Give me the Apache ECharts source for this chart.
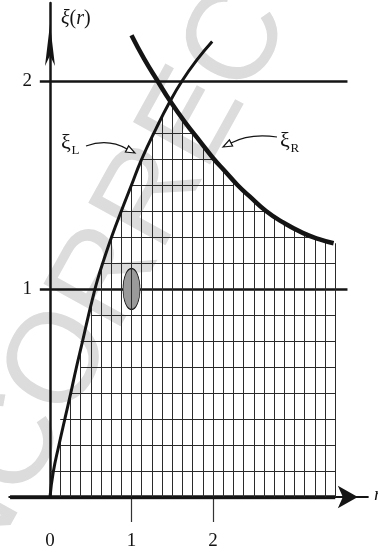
<!DOCTYPE html>
<html>
<head>
<meta charset="utf-8">
<script src="https://cdn.jsdelivr.net/npm/echarts@6/dist/echarts.min.js"></script>
<style>
  html, body { margin: 0; padding: 0; background: #fff; }
  #chart { width: 378px; height: 554px; }
</style>
</head>
<body>
<div id="chart"></div>
<script>
// Rising branch ξ_L(r)
const xiLeft = [
  [0, 0], [0.04, 0.12], [0.11, 0.25], [0.185, 0.38], [0.255, 0.5], [0.325, 0.625],
  [0.4, 0.75], [0.47, 0.87], [0.52, 0.95], [0.58, 1.04], [0.66, 1.14], [0.76, 1.255],
  [0.88, 1.38], [1.0, 1.5], [1.12, 1.62], [1.3, 1.77], [1.47, 1.9], [1.62, 2.0],
  [1.8, 2.1], [1.99, 2.19]
];
// Falling branch ξ_R(r)
const xiRight = [
  [1.0, 2.22], [1.15, 2.11], [1.32, 2.0], [1.48, 1.9], [1.66, 1.8], [1.84, 1.71],
  [2.0, 1.63], [2.15, 1.565], [2.3, 1.5], [2.45, 1.445], [2.65, 1.375], [2.86, 1.32],
  [3.1, 1.27], [3.3, 1.24], [3.48, 1.22]
];
// Axis ticks and labels
const rLabels = [0, 1, 2];
const rTicks = [1, 2];
const xiLabels = [1, 2];
// Reference levels of ξ
const xiLevels = [1, 2];
// Marked point (shaded ellipse)
const markedPoint = [[1, 1]];
// Mesh of the region under both branches
const meshStep = 0.125;
const meshCols = [0.125, 0.25, 0.375, 0.5, 0.625, 0.75, 0.875, 1, 1.125, 1.25, 1.375, 1.5,
  1.625, 1.75, 1.875, 2, 2.125, 2.25, 2.375, 2.5, 2.625, 2.75, 2.875, 3, 3.125, 3.25, 3.375, 3.5];
const meshRows = [0.125, 0.25, 0.375, 0.5, 0.625, 0.75, 0.875, 1, 1.125, 1.25, 1.375, 1.5, 1.625, 1.75];

// value of a piecewise-linear branch at r (held flat past its ends)
function valueAt(curve, r) {
  if (r <= curve[0][0]) return curve[0][1];
  for (let i = 0; i < curve.length - 1; i++) {
    const a = curve[i], b = curve[i + 1];
    if (r >= a[0] && r <= b[0]) return a[1] + (b[1] - a[1]) * (r - a[0]) / (b[0] - a[0]);
  }
  return curve[curve.length - 1][1];
}
// r where a branch reaches level v, or null
function rootOf(curve, v) {
  for (let i = 0; i < curve.length - 1; i++) {
    const a = curve[i], b = curve[i + 1];
    const lo = Math.min(a[1], b[1]), hi = Math.max(a[1], b[1]);
    if (v >= lo && v <= hi) return a[0] + (b[0] - a[0]) * (v - a[1]) / (b[1] - a[1]);
  }
  return null;
}
const snap = r => Math.round(r / meshStep) * meshStep;
const lastCol = meshCols[meshCols.length - 1];

const colSegments = meshCols.map(c => ({
  coords: [[c, 0], [c, Math.min(valueAt(xiLeft, c), valueAt(xiRight, c))]]
}));
const rowSegments = meshRows.map(v => {
  const left = snap(rootOf(xiLeft, v));
  const rr = rootOf(xiRight, v);
  const right = rr === null ? lastCol : Math.min(lastCol, snap(rr));
  return { coords: [[left, v], [right, v]] };
});
const levelSegments = xiLevels.map(v => ({ coords: [[-0.125, v], [3.65, v]] }));
const baseSegment = [{ coords: [[-0.49, 0], [lastCol, 0]] }];

const serif = '"Liberation Serif", "DejaVu Serif", serif';
const ink = '#141414';

const chart = echarts.init(document.getElementById('chart'), null, { renderer: 'canvas' });
chart.setOption({
  backgroundColor: '#fff',
  animation: false,
  grid: {
    left: 9.25, right: 10.15, top: 3, bottom: 57,
    containLabel: false, outerBoundsMode: 'none'
  },
  xAxis: {
    type: 'value', min: -0.5, max: 3.9,
    splitLine: { show: false },
    axisLine: {
      show: true, onZero: true,
      lineStyle: { color: ink, width: 2 },
      symbol: ['none', 'arrow'], symbolSize: [17, 20], symbolOffset: [0, -10]
    },
    axisTick: { show: true, customValues: rTicks, length: 25, lineStyle: { color: '#333', width: 1.2 } },
    axisLabel: {
      customValues: rLabels, margin: 35,
      fontFamily: serif, fontSize: 19, color: ink
    }
  },
  yAxis: {
    type: 'value', min: 0, max: 2.375,
    position: 'left', offset: -40.75,
    splitLine: { show: false },
    axisLine: {
      show: true, onZero: false,
      lineStyle: { color: ink, width: 2.5 },
      symbol: ['none', 'arrow'], symbolSize: [7.5, 42], symbolOffset: [0, -21]
    },
    axisTick: { show: false },
    axisLabel: {
      customValues: xiLabels, margin: 18,
      fontFamily: serif, fontSize: 19, color: ink
    }
  },
  series: [
    {
      type: 'lines', coordinateSystem: 'cartesian2d', silent: true, z: 3,
      lineStyle: { color: '#2a2a2a', width: 1, opacity: 1 },
      data: rowSegments
    },
    {
      type: 'lines', coordinateSystem: 'cartesian2d', silent: true, z: 3,
      lineStyle: { color: ink, width: 2.5, opacity: 1 },
      data: levelSegments
    },
    {
      type: 'lines', coordinateSystem: 'cartesian2d', silent: true, z: 3,
      lineStyle: { color: ink, width: 4.5, opacity: 1 },
      data: baseSegment
    },
    {
      type: 'scatter', z: 4, silent: true,
      symbol: 'circle', symbolSize: [17, 41],
      itemStyle: { color: '#9a9a9a', borderColor: ink, borderWidth: 1, opacity: 1 },
      data: markedPoint
    },
    {
      type: 'lines', coordinateSystem: 'cartesian2d', silent: true, z: 5,
      lineStyle: { color: '#2a2a2a', width: 1, opacity: 1 },
      data: colSegments
    },
    {
      type: 'line', name: 'ξL', z: 6, silent: true, smooth: 0.5,
      showSymbol: false, clip: false,
      lineStyle: { color: ink, width: 3 },
      data: xiLeft
    },
    {
      type: 'line', name: 'ξR', z: 6, silent: true, smooth: 0.5,
      showSymbol: false, clip: false,
      lineStyle: { color: ink, width: 4.5 },
      data: xiRight
    }
  ],
  graphic: [
    {
      type: 'text', z: -10, silent: true,
      x: -98, y: 648, rotation: 1.065,
      style: {
        text: 'UNCORRECTED PROOF',
        font: '128px "Liberation Sans", Arial, sans-serif',
        fill: '#dcdcdc', align: 'left', verticalAlign: 'middle'
      }
    },
    {
      type: 'text', z: 10, silent: true, x: 61, y: 19,
      style: {
        text: '{g|ξ}({i|r})', fill: ink, align: 'left', verticalAlign: 'middle',
        font: '20px ' + serif,
        rich: {
          g: { fontFamily: serif, fontSize: 20, fontStyle: 'italic', fill: ink },
          i: { fontFamily: serif, fontSize: 20, fontStyle: 'italic', fill: ink }
        }
      }
    },
    {
      type: 'text', z: 10, silent: true, x: 374, y: 495,
      style: { text: 'r', font: 'italic 19px ' + serif, fill: ink, align: 'left', verticalAlign: 'middle' }
    },
    {
      type: 'text', z: 10, silent: true, x: 61, y: 143,
      style: { text: 'ξ', font: '22px ' + serif, fill: ink, align: 'left', verticalAlign: 'middle' }
    },
    {
      type: 'text', z: 10, silent: true, x: 71.5, y: 151,
      style: { text: 'L', font: '13px ' + serif, fill: ink, align: 'left', verticalAlign: 'middle' }
    },
    {
      type: 'text', z: 10, silent: true, x: 280, y: 141,
      style: { text: 'ξ', font: '22px ' + serif, fill: ink, align: 'left', verticalAlign: 'middle' }
    },
    {
      type: 'text', z: 10, silent: true, x: 290.5, y: 149,
      style: { text: 'R', font: '13px ' + serif, fill: ink, align: 'left', verticalAlign: 'middle' }
    },
    {
      type: 'bezierCurve', z: 10, silent: true,
      shape: { x1: 86, y1: 146, cpx1: 108, cpy1: 138, x2: 127, y2: 149 },
      style: { stroke: ink, lineWidth: 1.2, fill: null }
    },
    {
      type: 'polygon', z: 10, silent: true,
      shape: { points: [[135, 153], [125.4, 152.1], [128.6, 145.9]] },
      style: { stroke: ink, lineWidth: 1.2, fill: '#fff' }
    },
    {
      type: 'bezierCurve', z: 10, silent: true,
      shape: { x1: 277, y1: 137, cpx1: 250, cpy1: 133, x2: 231, y2: 143 },
      style: { stroke: ink, lineWidth: 1.2, fill: null }
    },
    {
      type: 'polygon', z: 10, silent: true,
      shape: { points: [[223, 147], [232.6, 146.1], [229.4, 139.9]] },
      style: { stroke: ink, lineWidth: 1.2, fill: '#fff' }
    }
  ]
});
</script>
</body>
</html>
